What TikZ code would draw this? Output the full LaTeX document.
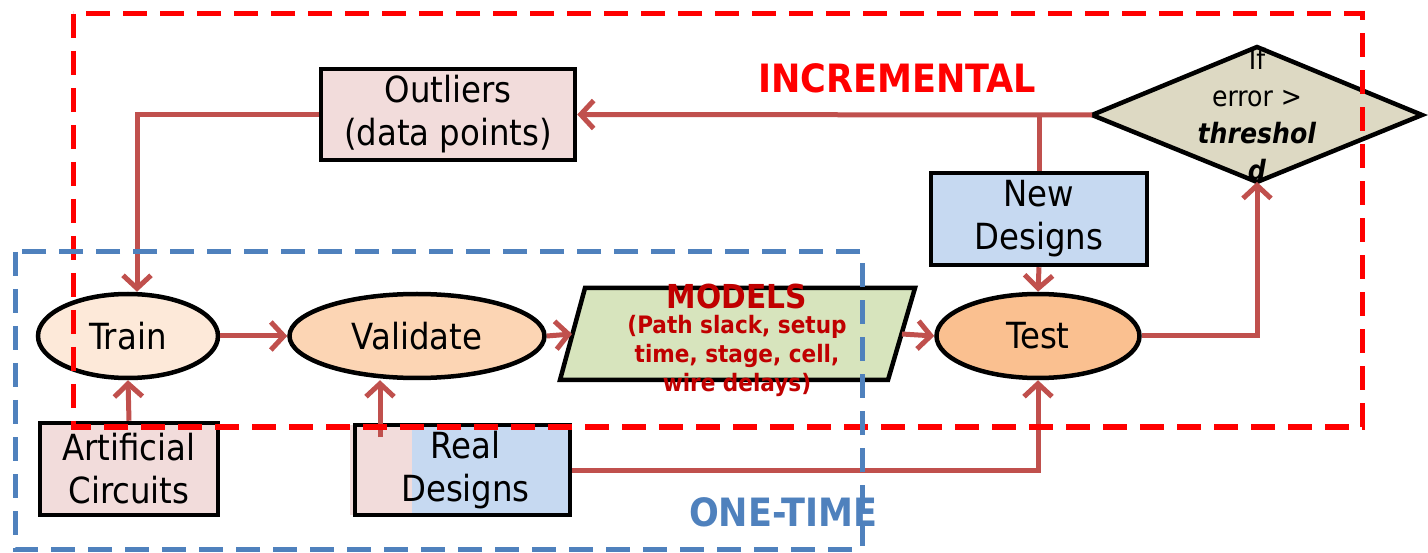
\documentclass[tikz,border=0pt]{standalone}
\usepackage{fontspec}
\setmainfont{DejaVu Sans Condensed}
\usetikzlibrary{arrows.meta,shapes.geometric}
\definecolor{arr}{HTML}{C0504D}
\definecolor{pinkf}{HTML}{F2DCDB}
\definecolor{bluef}{HTML}{C6D9F1}
\definecolor{trainf}{HTML}{FDE9D9}
\definecolor{validf}{HTML}{FCD5B4}
\definecolor{testf}{HTML}{FAC090}
\definecolor{modelf}{HTML}{D7E4BD}
\definecolor{diamf}{HTML}{DDD9C3}
\definecolor{dred}{HTML}{C00000}
\definecolor{oneblue}{HTML}{4F81BD}
\tikzset{
  bigtxt/.style={font=\fontsize{36}{43}\selectfont, align=center},
  boxnode/.style={draw=black, line width=4.5pt, rectangle, inner sep=0pt, bigtxt},
  ellnode/.style={draw=black, line width=4.5pt, ellipse, inner sep=0pt, bigtxt},
  flow/.style={draw=arr, line width=5pt, -{Straight Barb[length=13pt,width=28pt]}},
  flowline/.style={draw=arr, line width=5pt},
  reddash/.style={draw=red, line width=5pt, dash pattern=on 24pt off 13pt},
  bluedash/.style={draw=oneblue, line width=5pt, dash pattern=on 24pt off 13pt},
}
\begin{document}
\begin{tikzpicture}[x=1pt,y=-1pt]
\useasboundingbox (0,0) rectangle (1428,553);

% diamond
\coordinate (dl) at (1092,115);
\coordinate (dt) at (1257,47);
\coordinate (dr) at (1422,115);
\coordinate (db) at (1257,182);
\fill[diamf] (dl) -- (dt) -- (dr) -- (db) -- cycle;
\draw[black, line width=4.5pt, line join=miter] (dl) -- (dt) -- (dr) -- (db) -- cycle;
\node[font=\fontsize{28}{37}\selectfont, align=center] (dtext) at (1257,115)
  {If\\error >\\\textbf{\textit{threshol}}\\\textbf{\textit{d}}};

% models parallelogram
\coordinate (m1) at (585,288);
\coordinate (m2) at (915,288);
\coordinate (m3) at (888,380);
\coordinate (m4) at (560,380);
\coordinate (ml) at (572,334);
\coordinate (mr) at (902,334);
\filldraw[fill=modelf, draw=black, line width=4.5pt] (m1) -- (m2) -- (m3) -- (m4) -- cycle;

% nodes
\node[boxnode, fill=pinkf, minimum width=254pt, minimum height=91pt] (outl) at (448,114.5) {Outliers\\(data points)};
\node[boxnode, fill=bluef, minimum width=216pt, minimum height=92pt] (newd) at (1039,219) {New\\Designs};
\node[ellnode, fill=trainf, minimum width=180pt, minimum height=84pt] (train) at (128,336) {Train};
\node[ellnode, fill=validf, minimum width=255pt, minimum height=84pt] (valid) at (417,336) {Validate};
\node[ellnode, fill=testf, minimum width=203pt, minimum height=84pt] (test) at (1038,336) {Test};
\node[boxnode, fill=pinkf, minimum width=178pt, minimum height=92pt] (art) at (129,469) {Artificial\\Circuits};
\fill[bluef] (355,425) rectangle (570,515);
\fill[pinkf] (350,425) rectangle (412,515);
\node[boxnode, minimum width=215pt, minimum height=90pt] (real) at (462.5,470) {\hspace*{6pt}Real\\\hspace*{6pt}Designs};

\node[text=dred, font=\bfseries\fontsize{24}{29}\selectfont, align=center] (mtext) at (737,340)
  {\fontsize{33}{33}\selectfont MODELS\\[-4pt]
   \fontsize{24}{29}\selectfont (Path slack, setup\\time, stage, cell,\\wire delays)};

% connectors
\coordinate (jn) at (newd.north |- dl);
\coordinate (ocor) at (137,114.5);
\coordinate (rstart) at (380,437);
\coordinate (rcor) at (test.south |- real.east);
\coordinate (tcor) at (db |- test.east);
\draw[flow] (dl) -- (outl.east);
\draw[flowline] (newd.north) -- (jn);
\draw[flow] (outl.west) -- (ocor) -- (ocor |- train.north);
\draw[flow] (art.north) -- (train.south);
\draw[flow] (rstart) -- (rstart |- valid.south);
\draw[flow] (train.east) -- (valid.west);
\draw[flow] (valid.east) -- (ml);
\draw[flow] (mr) -- (test.west);
\draw[flow] (newd.south) -- (test.north);
\draw[flow] (real.east) -- (rcor) -- (test.south);
\draw[flow] (test.east) -- (tcor) -- (db);

% region labels
\node[text=red, font=\bfseries\fontsize{39}{39}\selectfont] (incl) at (897,78) {INCREMENTAL};
\node[text=oneblue, font=\bfseries\fontsize{39}{39}\selectfont] (onel) at (783,512) {ONE-TIME};

% dashed regions
\draw[reddash] (73,14) rectangle (1362,427);
\draw[bluedash] (15,252) rectangle (862,549);
\end{tikzpicture}
\end{document}
